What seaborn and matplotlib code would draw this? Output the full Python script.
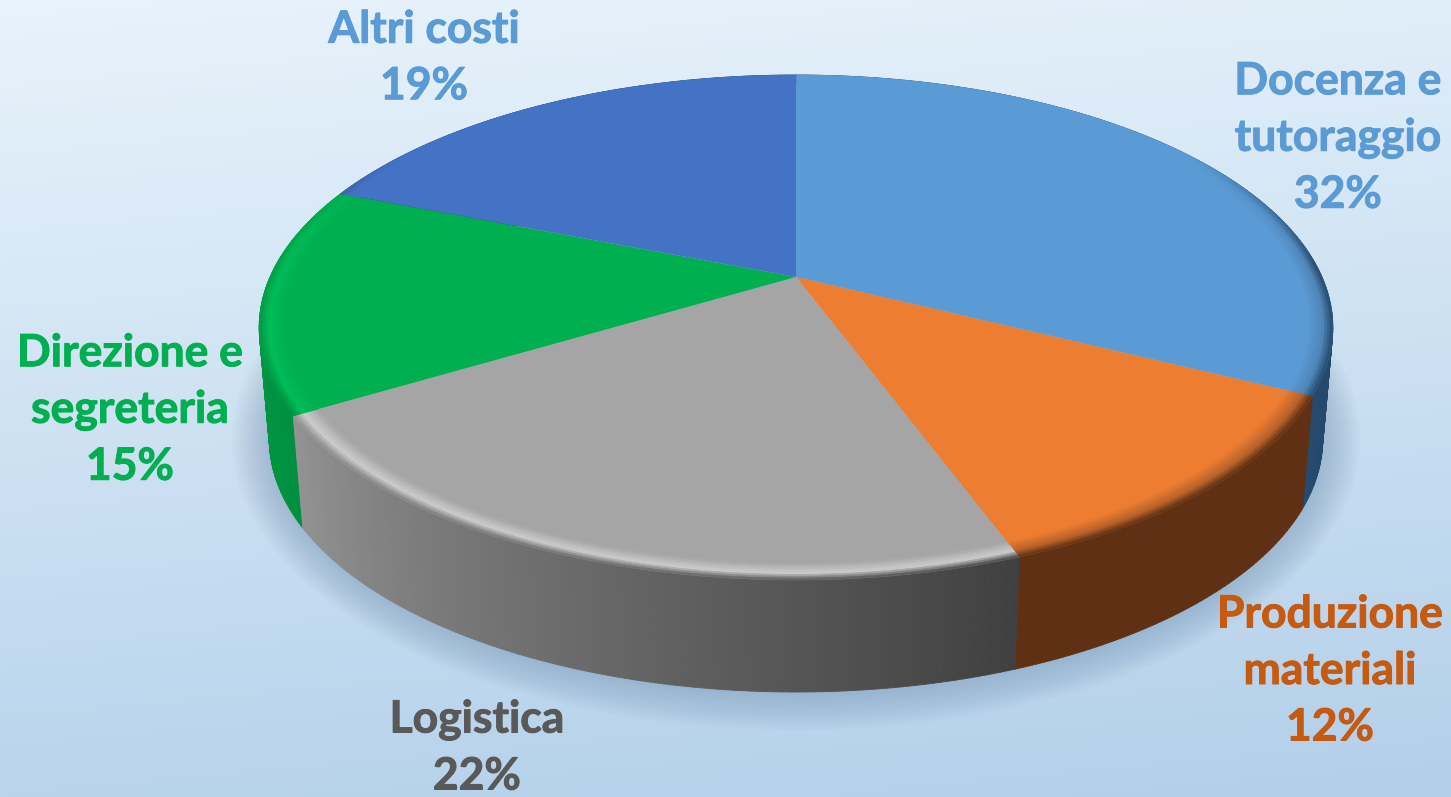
import matplotlib
matplotlib.use('Agg')
import matplotlib.patheffects as pe
import matplotlib.pyplot as plt
import numpy as np
import seaborn as sns
from matplotlib.collections import PolyCollection
from matplotlib.colors import to_rgb
from matplotlib.transforms import Transform

# Data (clockwise from the top)
names = ['Docenza e\ntutoraggio', 'Produzione\nmateriali', 'Logistica', 'Direzione e\nsegreteria', 'Altri costi']
shares = [32.4, 12.0, 22.0, 14.6, 19.0]
top_colors = ['#5b9bd5', '#ed7d31', '#a5a5a5', '#00b050', '#4472c4']
wall_left = ['#254a6e', '#5f3013', '#939393', '#00a84c', '#254a6e']
wall_right = ['#21405f', '#5f3013', '#404040', '#008f40', '#254a6e']
rim_colors = ['#4f86b8', '#b8632a', '#cdcdcd', '#00bd58', '#4472c4']
label_colors = ['#5b9bd5', '#c55a11', '#595959', '#00b050', '#5b9bd5']
label_pos = [(1338, 138), (1330, 671), (477, 748), (130, 410), (424, 58)]

CX, CY = 796, 277
A, B, K = 526, 242.4, 0.2
DEPTH = 112
BOTTOM_SX = 0.981


def project(x, y, sx=1.0, dy=0.0):
    w = 1 + K * y
    return CX + sx * A * x / w, CY + dy - B * y / w


class Tilt(Transform):
    # unit circle of the pie -> tilted disc in pixel coordinates
    input_dims = 2
    output_dims = 2

    def transform_non_affine(self, values):
        values = np.asarray(values)
        px, py = project(values[:, 0], values[:, 1])
        return np.column_stack([px, py])


def lerp(c1, c2, t):
    return tuple(np.array(to_rgb(c1)) * (1 - t) + np.array(to_rgb(c2)) * t)


sns.set_theme(style='white')
plt.rcParams['font.family'] = ['Lato', 'DejaVu Sans']

fig, ax = plt.subplots(figsize=(14.51, 7.97), dpi=100)
fig.subplots_adjust(0, 0, 1, 1)

# Pie faces
wedges, _ = ax.pie(shares, colors=top_colors, startangle=90, counterclock=False)
tilt = Tilt()
for w in wedges:
    w.set_transform(tilt + ax.transData)
    w.set_zorder(3)
    w.set_edgecolor('none')

ax.set_aspect('auto')
ax.set_xlim(0, 1451)
ax.set_ylim(797, 0)
ax.axis('off')

# Background
yy, xx = np.mgrid[0:1:200j, 0:1:200j]
grad = 0.86 * yy + 0.14 * xx
bg = np.zeros((200, 200, 3))
for i, (c1, c2) in enumerate(zip((232, 243, 251), (178, 207, 234))):
    bg[:, :, i] = (c1 + (c2 - c1) * grad) / 255
ax.imshow(bg, extent=(0, 1451, 797, 0), aspect='auto', zorder=0)

# Soft shadow around the base
t = np.linspace(0, 2 * np.pi, 240)
for grow in np.linspace(38, 2, 14):
    gx, gy = project(np.cos(t), np.sin(t), BOTTOM_SX, DEPTH)
    gx = CX + (gx - CX) * (1 + grow / 530)
    gy = 440 + (gy - 440) * (1 + grow / 252)
    ax.fill(gx, gy, color='#5f7f9f', alpha=0.028, lw=0, zorder=1)

# Side walls and rim, as thin quads along each slice
edges = np.cumsum([0] + shares) / 100 * 2 * np.pi
wall_q, wall_c, rim_q, rim_c = [], [], [], []
for i in range(len(shares)):
    th = np.linspace(edges[i], edges[i + 1], int(shares[i] * 5) + 2)
    x0, y0 = project(np.sin(th), np.cos(th))
    x1, y1 = project(np.sin(th), np.cos(th), BOTTOM_SX, DEPTH)
    for j in range(len(th) - 1):
        f = j / (len(th) - 2)
        wall_q.append([(x0[j], y0[j]), (x0[j + 1], y0[j + 1]), (x1[j + 1], y1[j + 1]), (x1[j], y1[j])])
        wall_c.append(lerp(wall_left[i], wall_right[i], f if i == 4 else 1 - f))

        # rim fades out towards the back of the disc
        a = (th[j] + th[j + 1]) / 2
        weight = np.clip((0.55 - np.cos(a)) / 0.5, 0, 1)
        bands = np.linspace(0.955, 1, 10)
        for k in range(len(bands) - 1):
            r0, r1 = bands[k], bands[k + 1]
            sa, sb = np.sin(th[j]), np.sin(th[j + 1])
            ca, cb = np.cos(th[j]), np.cos(th[j + 1])
            pts = [project(r0 * sa, r0 * ca), project(r0 * sb, r0 * cb),
                   project(r1 * sb, r1 * cb), project(r1 * sa, r1 * ca)]
            g = (k + 0.5) / (len(bands) - 1)
            col = lerp(top_colors[i], rim_colors[i], g / 0.6) if g < 0.6 else \
                lerp(rim_colors[i], wall_c[-1], (g - 0.6) / 0.4)
            rim_q.append(pts)
            rim_c.append(lerp(top_colors[i], col, weight))

order = np.argsort([q[0][1] for q in wall_q])
ax.add_collection(PolyCollection([wall_q[n] for n in order], facecolors=[wall_c[n] for n in order],
                                 edgecolors=[wall_c[n] for n in order], linewidths=0.6, zorder=2))
ax.add_collection(PolyCollection(rim_q, facecolors=rim_c, edgecolors=rim_c, linewidths=0.4, zorder=4))

# Labels
for name, share, col, (lx, ly) in zip(names, shares, label_colors, label_pos):
    ax.text(lx, ly, f'{name}\n{share:.0f}%', color=col, fontsize=32, fontweight='bold', ha='center',
            va='center', linespacing=1.5, zorder=5,
            path_effects=[pe.withStroke(linewidth=0.7, foreground=col)])

fig.savefig('out.png', dpi=100)
